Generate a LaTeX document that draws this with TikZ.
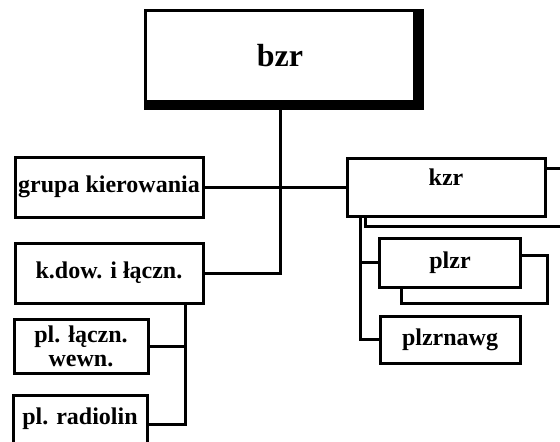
\documentclass[tikz,border=0pt]{standalone}
\usepackage{fontspec}
\setmainfont{Liberation Serif}
\begin{document}
\begin{tikzpicture}[x=1pt, y=1pt]
	\def\acol{109}
	\def\bcol{450}

	\tikzset{
		basic/.style={rectangle, draw=black, line width=3pt, fill=white, inner sep=0pt, align=center, font=\fontsize{24}{19}\selectfont\bfseries},
		bignode/.style={basic, minimum width=269pt, minimum height=91pt, font=\fontsize{32}{34}\selectfont\bfseries},
		wideunit/.style={basic, minimum width=188pt, minimum height=60pt},
		smallunit/.style={basic, minimum width=134pt, minimum height=54pt},
		subunit/.style={basic, minimum width=140pt, minimum height=48pt},
		conn/.style={line width=3pt}
	}

	\useasboundingbox (0,0) rectangle (560,-442);
	\clip (0,0) rectangle (560,-442);

	% top node
	\node[bignode] (bzr) at (280,-55.5) {bzr};
	\fill (bzr.north east) rectangle ([xshift=8pt, yshift=-7pt]bzr.south east);
	\fill (bzr.south west) rectangle ([xshift=8pt, yshift=-7pt]bzr.south east);

	% left column
	\node[wideunit] (grupa) at (\acol,-187) {grupa kierowania};
	\node[wideunit] (kdow) at (\acol,-273) {k.dow. i łączn.};
	\node[smallunit] (plwewn) at (81,-346) {pl. łączn.\\[5pt]wewn.};
	\node[smallunit, text height=29pt, text depth=29pt] (plradio) at (80,-424) {pl. radiolin};

	% right column
	\node[basic, minimum width=198pt, text height=27pt, text depth=31pt] (kzr) at (446,-187) {kzr};
	\node[subunit, minimum width=141pt, minimum height=49pt] (plzr) at (\bcol,-262.5) {plzr};
	\node[subunit, minimum height=47pt] (plzrnawg) at (\bcol,-339.5) {plzrnawg};

	% links leaving the picture
	\coordinate (outA) at (565,-168);
	\coordinate (outB) at (565,-226);

	% connections
	\draw[conn] (bzr.south) |- (kdow.east);
	\draw[conn] (grupa.east) -- (kzr.west);
	\draw[conn] ([xshift=76pt]kdow.south) coordinate (kd) |- (plradio.east);
	\draw[conn] (plwewn.east) -- (plwewn.east -| kd);

	\draw[conn] ([xshift=15pt]kzr.south west) coordinate (kz) |- (plzrnawg.west);
	\draw[conn] (plzr.west) -- (plzr.west -| kz);
	\draw[conn] ([yshift=7.5pt]plzr.east) -| ++(25,-48) -| ([xshift=23pt]plzr.south west);

	\draw[conn] ([yshift=19pt]kzr.east) -- (outA);
	\draw[conn] ([xshift=20pt]kzr.south west) |- (outB);
\end{tikzpicture}
\end{document}
